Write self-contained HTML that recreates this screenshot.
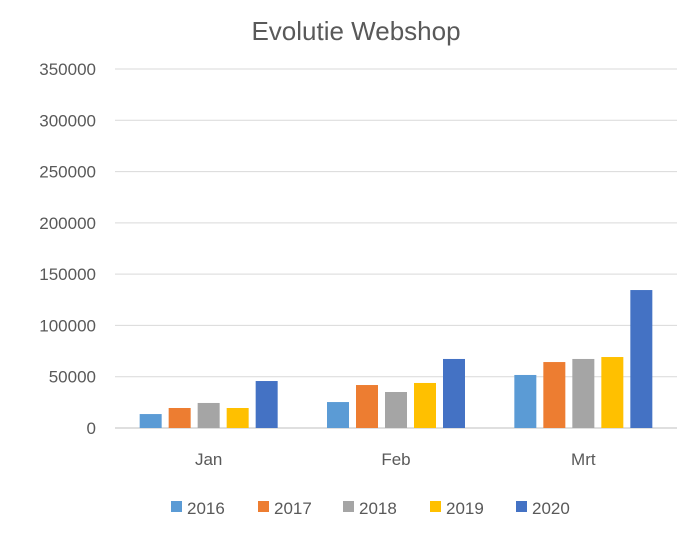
<!DOCTYPE html>
<html><head><meta charset="utf-8"><style>
body{margin:0;background:#fff;font-family:"Liberation Sans",sans-serif;}
svg text{font-family:"Liberation Sans",sans-serif;fill:#595959;}
</style></head><body>
<svg width="700" height="531" viewBox="0 0 700 531">
<rect width="700" height="531" fill="#fff"/>
<text x="356" y="40" text-anchor="middle" font-size="26">Evolutie Webshop</text>
<g id="grid"></g><g id="bars"></g><g id="xlabels"></g><g id="legend"></g>
</svg>
<script>
const categories=["Jan","Feb","Mrt"];
const seriesNames=["2016","2017","2018","2019","2020"];
const v2016=[13600,25300,51700];
const v2017=[19500,41900,64300];
const v2018=[24400,35100,67300];
const v2019=[19500,43900,69200];
const v2020=[45800,67300,134500];
const yTicks=[0,50000,100000,150000,200000,250000,300000,350000];
const colors=["#5B9BD5","#ED7D31","#A5A5A5","#FFC000","#4472C4"];
const series=[v2016,v2017,v2018,v2019,v2020];
const NS="http://www.w3.org/2000/svg";
const x0=115,x1=677,yBase=428,yTop=69,yMax=350000;
const y=v=>yBase-(v/yMax)*(yBase-yTop);
const catW=(x1-x0)/categories.length;
function mk(t,a,p){const e=document.createElementNS(NS,t);for(const k in a)e.setAttribute(k,a[k]);p.appendChild(e);return e;}
const grid=document.getElementById('grid');
yTicks.forEach(t=>{
 const l=mk('line',{x1:x0,x2:x1,y1:y(t),y2:y(t),stroke:t===0?'#bfbfbf':'#d9d9d9','stroke-width':1},grid);
 
 
 const tx=mk('text',{x:96,y:y(t)+6,'text-anchor':'end','font-size':17},grid);
 tx.textContent=t;
 
 
});
const bars=document.getElementById('bars');
const bw=22,step=29;
categories.forEach((c,i)=>{
 const cx=x0+catW*(i+0.5);
 series.forEach((s,j)=>{
  const bx=cx-(step*2)-bw/2+j*step;
  const r=mk('rect',{x:bx,y:y(s[i]),width:bw,height:yBase-y(s[i]),fill:colors[j]},bars);
  
  
 });
 const t=mk('text',{x:cx,y:465,'text-anchor':'middle','font-size':17},document.getElementById('xlabels'));
 t.textContent=c;
 
 
});
const lg=document.getElementById('legend');
const lx=[171,258,343,430,516];
seriesNames.forEach((n,j)=>{
 const g=mk('g',{},lg);
 
 
 mk('rect',{x:lx[j],y:501,width:11,height:11,fill:colors[j]},g);
 const t=mk('text',{x:lx[j]+16,y:514,'font-size':17},g);
 t.textContent=n;
});
</script>
</body></html>
